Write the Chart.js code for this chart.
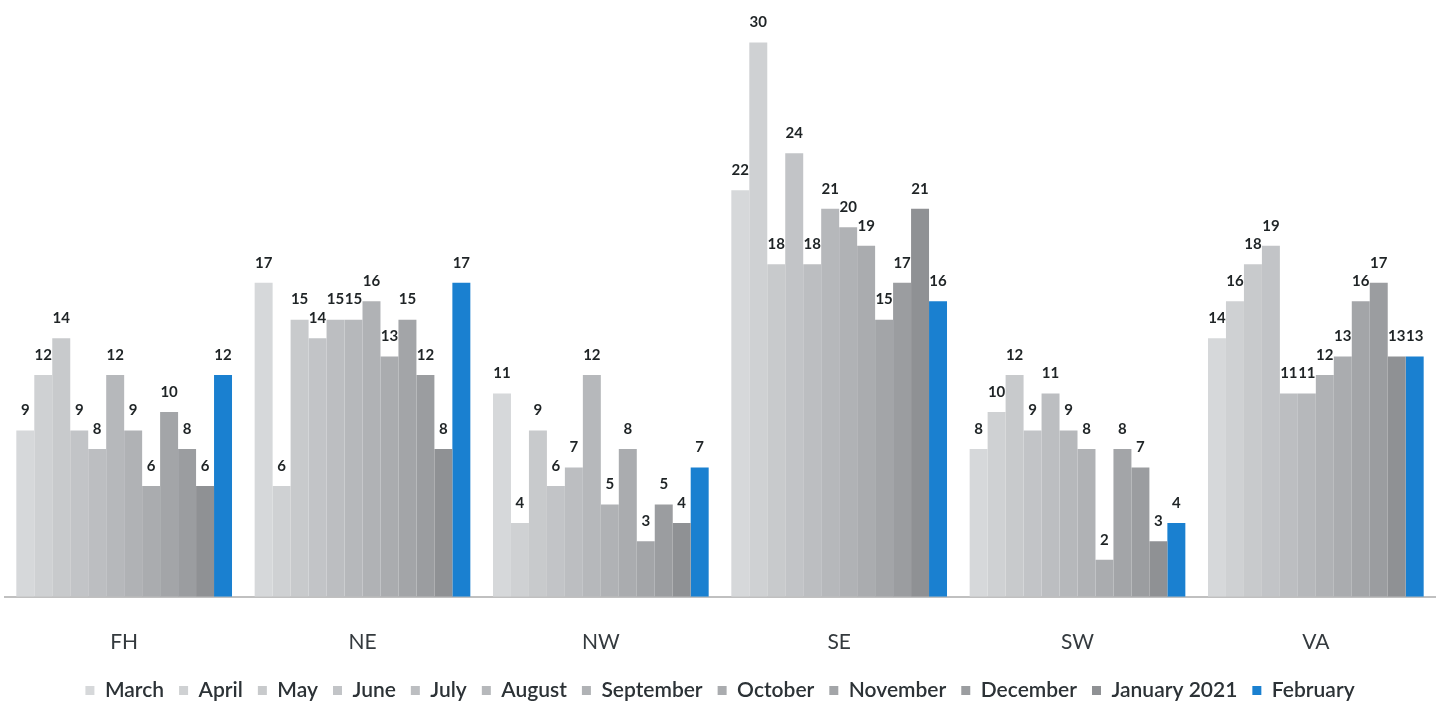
<!DOCTYPE html>
<html>
<head>
<meta charset="utf-8">
<script src="https://cdn.jsdelivr.net/npm/chart.js@4/dist/chart.umd.min.js"></script>
<style>
  html, body { margin: 0; padding: 0; background: #fff; }
  #wrap { width: 1441px; height: 702px; }
</style>
</head>
<body>
<div id="wrap"><canvas id="myChart" width="1441" height="702"></canvas></div>
<script>
const regions = ['FH', 'NE', 'NW', 'SE', 'SW', 'VA'];
const months = ['March', 'April', 'May', 'June', 'July', 'August', 'September', 'October', 'November', 'December', 'January 2021', 'February'];

// one array per month, values in region order FH, NE, NW, SE, SW, VA
const march     = [9, 17, 11, 22, 8, 14];
const april     = [12, 6, 4, 30, 10, 16];
const may       = [14, 15, 9, 18, 12, 18];
const june      = [9, 14, 6, 24, 9, 19];
const july      = [8, 15, 7, 18, 11, 11];
const august    = [12, 15, 12, 21, 9, 11];
const september = [9, 16, 5, 20, 8, 12];
const october   = [6, 13, 8, 19, 2, 13];
const november  = [10, 15, 3, 15, 8, 16];
const december  = [8, 12, 5, 17, 7, 17];
const january   = [6, 8, 4, 21, 3, 13];
const february  = [12, 17, 7, 16, 4, 13];

const seriesValues = [march, april, may, june, july, august, september, october, november, december, january, february];

const colors = ['#d6d8da', '#cfd1d3', '#c8cacc', '#c2c4c7', '#bcbec1', '#b6b8bb',
                '#b0b2b5', '#aaacaf', '#a3a5a8', '#9b9da0', '#8f9194', '#1a80d0'];

// value labels above every bar
const barLabels = {
  id: 'barLabels',
  afterDatasetsDraw(chart) {
    const ctx = chart.ctx;
    ctx.save();
    ctx.font = 'bold 15px Lato';
    ctx.fillStyle = '#1f2426';
    ctx.textAlign = 'center';
    ctx.textBaseline = 'middle';
    chart.data.datasets.forEach((ds, i) => {
      const meta = chart.getDatasetMeta(i);
      meta.data.forEach((bar, j) => {
        ctx.fillText(ds.data[j], bar.x, bar.y - 20);
      });
    });
    ctx.restore();
  }
};

const ctx = document.getElementById('myChart').getContext('2d');
let myChart = new Chart(ctx, {
  type: 'bar',
  data: {
    labels: regions,
    datasets: months.map((m, i) => ({
      label: m,
      data: seriesValues[i],
      backgroundColor: colors[i],
      borderWidth: 0,
      categoryPercentage: 0.905,
      barPercentage: 1.0
    }))
  },
  options: {
    responsive: false,
    animation: false,
    layout: { padding: { left: 5, right: 6, top: 0, bottom: -9 } },
    scales: {
      x: {
        grid: { display: false },
        border: { display: true, color: '#c0c0c0', width: 2 },
        ticks: { color: '#343a3e', font: { family: 'Lato', size: 21 }, padding: 25 },
        afterFit(scale) { scale.height -= 15; } // pull the legend closer to the region names
      },
      y: {
        display: false,
        min: 0,
        max: 32.3
      }
    },
    plugins: {
      legend: {
        position: 'bottom',
        labels: {
          color: '#2c3236',
          font: { family: 'Lato', size: 21, weight: '600' },
          boxWidth: 9,
          boxHeight: 9,
          padding: 15
        }
      },
      tooltip: { enabled: false }
    }
  },
  plugins: [barLabels]
});
</script>
</body>
</html>
